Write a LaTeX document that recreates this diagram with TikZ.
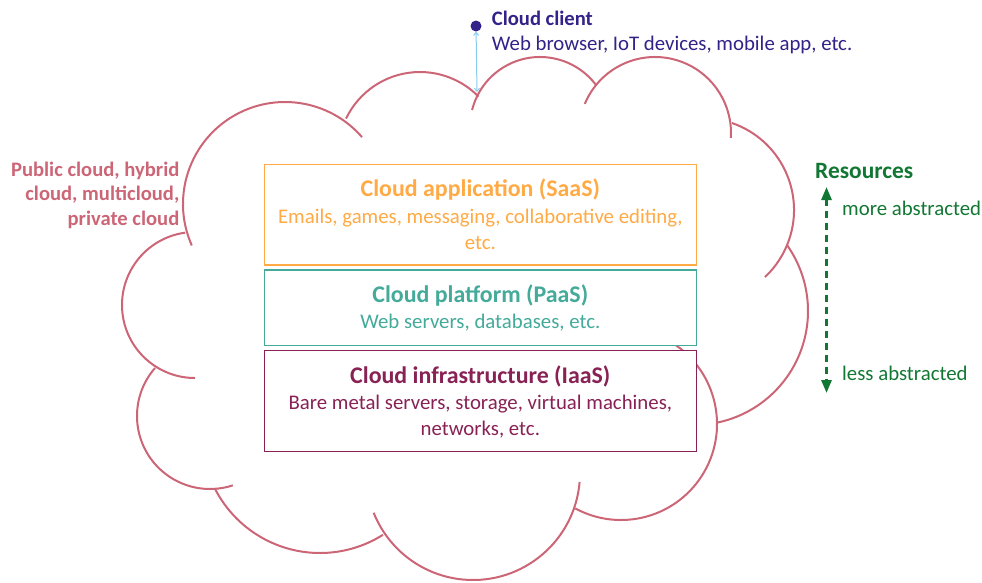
\documentclass[tikz,border=0pt]{standalone}
\usepackage{fontspec}
\setmainfont{Carlito}
\usetikzlibrary{arrows.meta}
\definecolor{rose}{HTML}{CC6677}
\definecolor{tealc}{HTML}{44AA99}
\definecolor{winec}{HTML}{882255}
\definecolor{indigoc}{HTML}{332288}
\definecolor{greenc}{HTML}{117733}
\definecolor{cyanc}{HTML}{88CCEE}
\definecolor{orangec}{HTML}{FFAA44}
\newcommand\hdfont{\fontsize{23.9}{26}\selectfont\bfseries}
\newcommand\sdfont{\fontsize{20.6}{26}\selectfont\bfseries}
\newcommand\bdfont{\fontsize{20.8}{26}\selectfont}
\begin{document}
\begin{tikzpicture}[x=1pt,y=1pt,yscale=-1,
  cloudarc/.style={draw=rose, line width=2pt},
  layerbox/.style={draw, fill=white, line width=1.3pt, minimum width=432pt, inner sep=0pt, outer sep=0pt},
  head/.style={font=\hdfont, inner sep=0pt, anchor=base},
  side/.style={font=\sdfont, inner sep=0pt, anchor=base},
  body/.style={font=\bdfont, inner sep=0pt, anchor=base}]
\useasboundingbox (0,0) rectangle (982,582);
% cloud outline
\draw[cloudarc] (285,204) ++(156:102) arc[start angle=156, end angle=319, radius=102];
\draw[cloudarc] (420,154) ++(205.6:82) arc[start angle=205.6, end angle=315.5, radius=82];
\draw[cloudarc] (540,127) ++(194:70) arc[start angle=194, end angle=323.6, radius=70];
\draw[cloudarc] (655,133) ++(202.5:76) arc[start angle=202.5, end angle=363.7, radius=76];
\draw[cloudarc] (702,210) ++(-71:92) arc[start angle=-71, end angle=46.8, radius=92];
\draw[cloudarc] (694,311) ++(-35.4:114) arc[start angle=-35.4, end angle=78.4, radius=114];
\draw[cloudarc] (621,424) ++(-60:96) arc[start angle=-60, end angle=118.5, radius=96];
\draw[cloudarc] (473,473) ++(4.8:107) arc[start angle=4.8, end angle=158.2, radius=107];
\draw[cloudarc] (320,435) ++(57.8:118) arc[start angle=57.8, end angle=153.2, radius=118];
\draw[cloudarc] (210,416) ++(221.1:73) arc[start angle=221.1, end angle=71.8, radius=73];
\draw[cloudarc] (195,305) ++(262.2:73) arc[start angle=262.2, end angle=90, radius=73];
% layer boxes
\node[layerbox, draw=orangec, minimum height=100.7pt] (saas) at (480.3,214.7) {};
\node[layerbox, draw=tealc, minimum height=75.7pt] (paas) at (480.3,307.9) {};
\node[layerbox, draw=winec, minimum height=100.8pt] (iaas) at (480.3,401.1) {};
% layer texts
\node[head, text=orangec] (saash) at (480.3,196.5) {Cloud application (SaaS)};
\node[body, text=orangec] (saasb1) at (480.3,223) {Emails, games, messaging, collaborative editing,};
\node[body, text=orangec] (saasb2) at (480.3,249) {etc.};
\node[head, text=tealc] (paash) at (480.3,302.5) {Cloud platform (PaaS)};
\node[body, text=tealc] (paasb) at (480.3,328.5) {Web servers, databases, etc.};
\node[head, text=winec] (iaash) at (480.3,383) {Cloud infrastructure (IaaS)};
\node[body, text=winec] (iaasb1) at (480.3,409.5) {Bare metal servers, storage, virtual machines,};
\node[body, text=winec] (iaasb2) at (480.3,435.5) {networks, etc.};
% cloud kinds
\node[side, anchor=base east, text=rose] (pub1) at (179.5,176.7) {Public cloud, hybrid};
\node[side, anchor=base east, text=rose] (pub2) at (179.5,200.8) {cloud, multicloud,};
\node[side, anchor=base east, text=rose] (pub3) at (179.5,225) {private cloud};
% client
\node[circle, fill=indigoc, inner sep=0pt, minimum size=11pt] (dot) at (476,26) {};
\coordinate (cloudtop) at (477,92);
\draw[cyanc, line width=1pt, {Straight Barb[length=3pt,width=5pt]}-{Straight Barb[length=3pt,width=5pt]}] (dot) -- (cloudtop);
\node[side, anchor=base west, text=indigoc] (cch) at (491.7,25) {Cloud client};
\node[body, anchor=base west, text=indigoc] (ccb) at (491.7,50) {Web browser, IoT devices, mobile app, etc.};
% resources
\node[head, font=\fontsize{23.4}{26}\selectfont\bfseries, anchor=base west, text=greenc] (res) at (815,178.3) {Resources};
\node[body, anchor=base west, text=greenc] (more) at (842,215) {more abstracted};
\node[body, anchor=base west, text=greenc] (less) at (842,380.7) {less abstracted};
\coordinate (gtop) at (826.5,187);
\coordinate (gbot) at (826.5,393);
\draw[greenc, line width=2.8pt, dash pattern=on 7pt off 5pt, {Triangle[length=13pt,width=10pt]}-{Triangle[length=13pt,width=10pt]}] (gtop) -- (gbot);
\end{tikzpicture}
\end{document}
